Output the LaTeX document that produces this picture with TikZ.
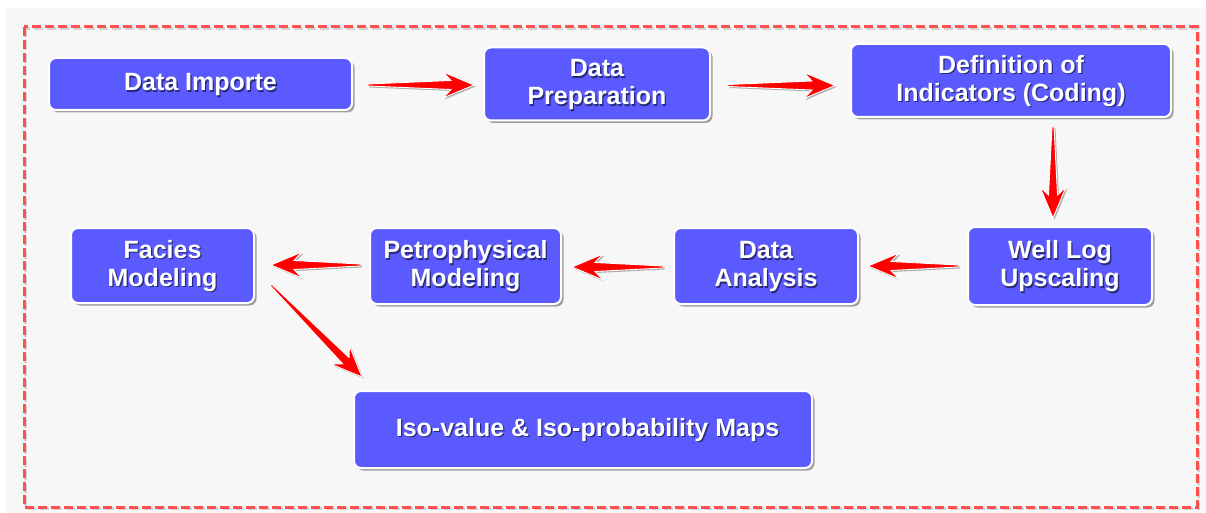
\documentclass[tikz,border=0pt]{standalone}
\usepackage{fontspec}
\setmainfont{Liberation Sans}
\usetikzlibrary{calc,shadows}
\definecolor{boxblue}{RGB}{90,90,255}
\definecolor{bggray}{RGB}{247,247,247}
\definecolor{dashred}{RGB}{255,80,80}
\definecolor{arrred}{RGB}{255,0,0}
\definecolor{txtshadow}{RGB}{40,40,125}
\newcommand\shtext[1]{\raisebox{-2pt}[\height][\depth]{\makebox[0pt][l]{\kern1.3pt\raisebox{-1.3pt}{\color{txtshadow}\begin{tabular}{@{}c@{}}#1\end{tabular}}}\begin{tabular}{@{}c@{}}#1\end{tabular}}}
\newcommand\fatarrow[2]{%
  \path[fatarr] ($(#1)!1pt!90:(#2)$) -- ($(#2)!23pt!(#1)!4.5pt!270:(#1)$) -- ($(#2)!31pt!(#1)!13pt!270:(#1)$) -- (#2) -- ($(#2)!31pt!(#1)!13pt!90:(#1)$) -- ($(#2)!23pt!(#1)!4.5pt!90:(#1)$) -- ($(#1)!1pt!270:(#2)$) -- cycle;}
\tikzset{
  stepbox/.style={rectangle, rounded corners=7pt, draw=white, line width=2pt, fill=boxblue,
    text=white, inner sep=0pt, font=\fontsize{25}{28}\selectfont\bfseries,
    drop shadow={shadow xshift=2.5pt, shadow yshift=-2.5pt, opacity=0.35, fill=black}},
  fatarr/.style={fill=arrred, draw=white, line width=0.9pt, line join=miter,
    drop shadow={shadow xshift=1.5pt, shadow yshift=-1.5pt, opacity=0.3, fill=black}},
}
\begin{document}
\begin{tikzpicture}[x=1pt,y=-1pt]
\useasboundingbox (0,0) rectangle (1206,513);
\fill[white] (0,0) rectangle (1206,513);
\fill[bggray] (6,8) rectangle (1206,513);
% dashed frame with shadow
\draw[black, opacity=0.15, line width=3pt, dash pattern=on 9pt off 4pt] (25.5,28.5) rectangle (1198.5,508.5);
\draw[dashred, line width=3pt, dash pattern=on 9pt off 4pt] (24,27) rectangle (1197,507);

% boxes
\node[stepbox, minimum width=303pt, minimum height=52pt] (imp) at (200.5,84) {\shtext{Data Importe}};
\node[stepbox, minimum width=226pt, minimum height=73pt] (prep) at (597,84) {\shtext{Data\\Preparation}};
\node[stepbox, minimum width=320pt, minimum height=73pt] (def) at (1011,80.5) {\shtext{Definition of\\Indicators (Coding)}};
\node[stepbox, minimum width=184pt, minimum height=78pt] (well) at (1060,266) {\shtext{Well Log\\Upscaling}};
\node[stepbox, minimum width=184pt, minimum height=76pt] (ana) at (766,266) {\shtext{Data\\Analysis}};
\node[stepbox, minimum width=191pt, minimum height=76pt] (petro) at (465.5,266) {\shtext{Petrophysical\\Modeling}};
\node[stepbox, minimum width=183pt, minimum height=75pt] (fac) at (162.5,265.5) {\shtext{Facies\\Modeling}};
\node[stepbox, minimum width=458pt, minimum height=77pt] (iso) at (583,429.5) {\hspace{9pt}\shtext{Iso-value \& Iso-probability Maps}};

% connector end points
\coordinate (a1s) at ($(imp.east)+(15,1)$);
\coordinate (a1e) at ($(prep.west|-a1s)+(-9,0)$);
\coordinate (a2s) at ($(prep.east)+(17,1.5)$);
\coordinate (a2e) at ($(def.west|-a2s)+(-15,0)$);
\coordinate (a3s) at ($(def.south)+(42,9)$);
\coordinate (a3e) at ($(a3s|-well.north)+(0,-8)$);
\coordinate (a4s) at ($(well.west)+(-9,0)$);
\coordinate (a4e) at ($(ana.east|-a4s)+(9,0)$);
\coordinate (a5s) at ($(ana.west)+(-10,1)$);
\coordinate (a5e) at ($(petro.east|-a5s)+(10,0)$);
\coordinate (a6s) at ($(petro.west)+(-9,-1)$);
\coordinate (a6e) at ($(fac.east|-a6s)+(16,0)$);
\coordinate (a7s) at ($(fac.east)+(16,19.5)$);
\coordinate (a7e) at ($(iso.north west)+(9,-13)$);

% connectors
\fatarrow{a1s}{a1e}
\fatarrow{a2s}{a2e}
\fatarrow{a3s}{a3e}
\fatarrow{a4s}{a4e}
\fatarrow{a5s}{a5e}
\fatarrow{a6s}{a6e}
\fatarrow{a7s}{a7e}
\end{tikzpicture}
\end{document}
